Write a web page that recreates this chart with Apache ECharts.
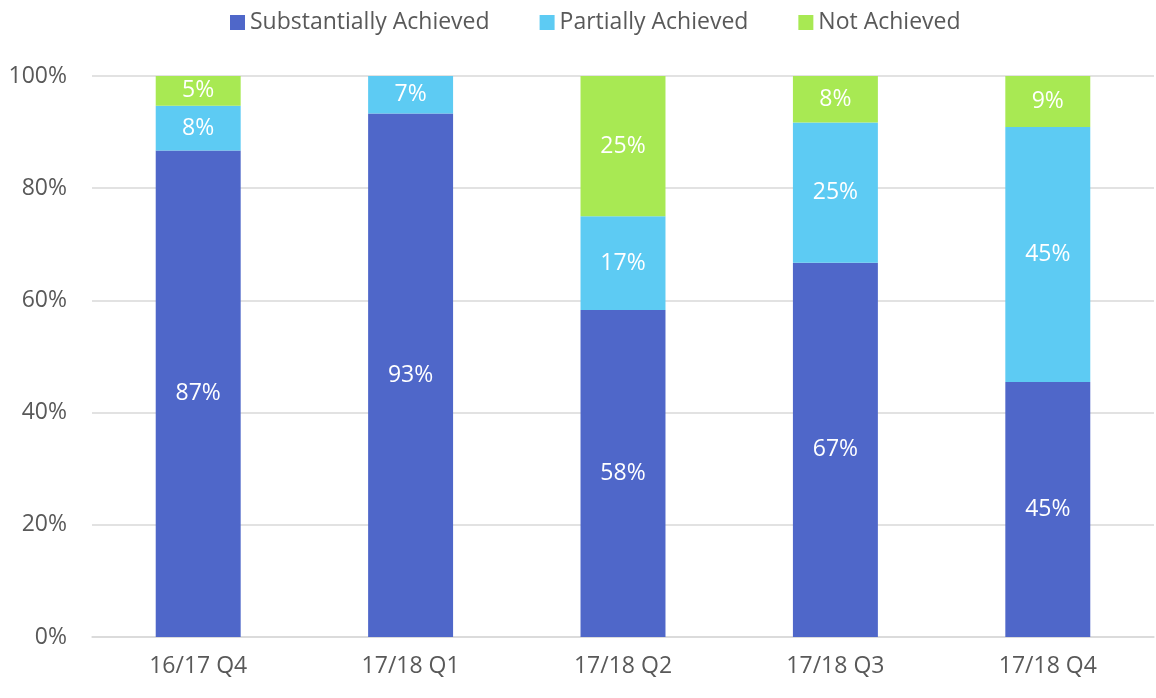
<!DOCTYPE html>
<html>
<head>
<meta charset="utf-8">
<script src="https://cdn.jsdelivr.net/npm/echarts@6/dist/echarts.min.js"></script>
<style>
  html, body { margin: 0; padding: 0; background: #fff; }
  #main { width: 1156px; height: 698px; }
</style>
</head>
<body>
<div id="main"></div>
<script>
const quarters = ['16/17 Q4', '17/18 Q1', '17/18 Q2', '17/18 Q3', '17/18 Q4'];
const substantially = [86.7, 93.3, 58.3, 66.7, 45.45];
const partially = [8.0, 6.7, 16.7, 25.0, 45.45];
const notAchieved = [5.3, 0, 25.0, 8.3, 9.1];
const yTicks = [0, 20, 40, 60, 80, 100];

const fontFamily = '"Open Sans", "Noto Sans", sans-serif';

// 基于准备好的dom，初始化echarts实例
const myChart = echarts.init(document.getElementById('main'));

function labelStyle() {
    return {
        show: true,
        color: '#ffffff',
        fontSize: 23,
        fontFamily: fontFamily,
        formatter: (p) => p.value > 0 ? Math.round(p.value) + '%' : ''
    };
}

myChart.setOption({
    animation: false,
    color: ['#4f67c9', '#5dcbf3', '#a8e953'],
    textStyle: { fontFamily: fontFamily },
    legend: {
        top: 6,
        left: 225,
        itemWidth: 15,
        itemHeight: 15,
        itemGap: 50,
        icon: 'rect',
        textStyle: { color: '#595959', fontSize: 23, fontFamily: fontFamily },
        data: ['Substantially Achieved', 'Partially Achieved', 'Not Achieved']
    },
    grid: {
        left: 92,
        right: 2,
        top: 76,
        bottom: 61
    },
    xAxis: {
        type: 'category',
        data: quarters,
        axisLine: { show: true, lineStyle: { color: '#d9d9d9', width: 1.5 } },
        axisTick: { show: false },
        axisLabel: { color: '#595959', fontSize: 23, margin: 18, fontFamily: fontFamily }
    },
    yAxis: {
        type: 'value',
        min: 0,
        max: 100,
        interval: 20,
        axisLine: { show: false },
        axisTick: { show: false },
        splitLine: { lineStyle: { color: '#d9d9d9', width: 1.5 } },
        axisLabel: {
            color: '#595959',
            fontSize: 23,
            margin: 25,
            fontFamily: fontFamily,
            formatter: (v) => yTicks.includes(v) ? v + '%' : ''
        }
    },
    series: [
        {
            name: 'Substantially Achieved',
            type: 'bar',
            stack: 'total',
            barWidth: '40%',
            data: substantially,
            label: labelStyle()
        },
        {
            name: 'Partially Achieved',
            type: 'bar',
            stack: 'total',
            barWidth: '40%',
            data: partially,
            label: labelStyle()
        },
        {
            name: 'Not Achieved',
            type: 'bar',
            stack: 'total',
            barWidth: '40%',
            data: notAchieved,
            label: labelStyle()
        }
    ]
});
</script>
</body>
</html>
